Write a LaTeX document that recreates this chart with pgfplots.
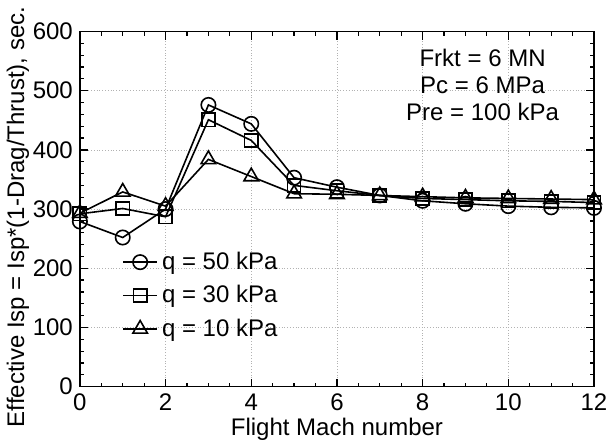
\documentclass[border=0pt]{standalone}
\usepackage{fontspec}
\setmainfont{Liberation Sans}
\usepackage{pgfplots}
\pgfplotsset{compat=1.18}

\begin{document}
\begin{tikzpicture}
\begin{axis}[
  scale only axis,
  width=257pt, height=177.5pt,
  xmin=0, xmax=12, ymin=0, ymax=600,
  xtick={0,2,...,12}, ytick={0,100,...,600},
  minor x tick num=3, minor y tick num=4,
  tick align=inside,
  major tick length=4pt, minor tick length=2pt,
  xtick pos=both, ytick pos=both,
  grid=major,
  grid style={densely dotted, gray!60, line width=0.3pt},
  axis line style={line width=0.8pt},
  tick style={line width=0.6pt, black},
  font=\fontsize{12}{14}\selectfont,
  /pgf/number format/assume math mode=true,
  xlabel={Flight Mach number},
  ylabel={Effective Isp = Isp*(1-Drag/Thrust), sec.},
  xlabel style={yshift=3pt},
  ylabel style={yshift=-5pt, at={(ticklabel cs:0.478)}},
  legend style={draw=none, fill=none, at={(0.07,0.11)}, anchor=south west,
    row sep=2.5pt, font=\fontsize{12}{14}\selectfont},
  legend cell align=left,
]
\addplot[black, line width=0.8pt, mark=o, mark size=3.6pt,
  mark options={fill=white, solid}] coordinates {
  (0,279)(1,252)(2,300)(3,476)(4,444)(5,353)(6,337)(7,323)(8,314)(9,309)(10,305)(11,303)(12,302)
};
\addplot[black, line width=0.8pt, mark=square, mark size=3.3pt,
  mark options={fill=white, solid}] coordinates {
  (0,292)(1,301)(2,287)(3,451)(4,416)(5,340)(6,331)(7,323)(8,318)(9,316)(10,314)(11,313)(12,311)
};
\addplot[black, line width=0.8pt, mark=triangle, mark size=4.2pt,
  mark options={fill=white, solid}] coordinates {
  (0,293)(1,329)(2,305)(3,384)(4,355)(5,326)(6,325)(7,323)(8,321)(9,319)(10,318)(11,317)(12,316)
};
\legend{q = 50 kPa, q = 30 kPa, q = 10 kPa}
\node[align=center, font=\fontsize{12}{13.5}\selectfont] at (axis cs:9.4,510)
  {Frkt = 6 MN\\Pc = 6 MPa\\Pre = 100 kPa};
\end{axis}
\end{tikzpicture}
\end{document}
